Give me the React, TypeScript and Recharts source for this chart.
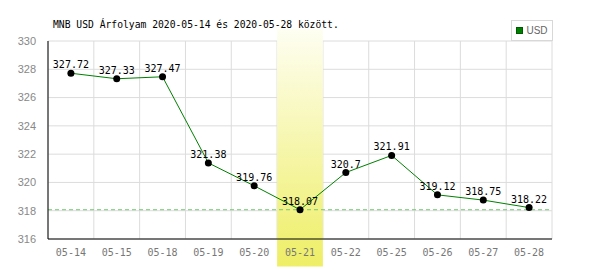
import React from "react";
import {
  LineChart,
  Line,
  XAxis,
  YAxis,
  CartesianGrid,
  ReferenceLine,
  ReferenceArea,
  LabelList,
} from "recharts";

const dates = ["05-14", "05-15", "05-18", "05-19", "05-20", "05-21", "05-22", "05-25", "05-26", "05-27", "05-28"];
const usdRates = [327.72, 327.33, 327.47, 321.38, 319.76, 318.07, 320.7, 321.91, 319.12, 318.75, 318.22];
const yTicks = [316, 318, 320, 322, 324, 326, 328, 330];
const highlightIndex = 5;
const minRate = Math.min(...usdRates);

const data = dates.map((d, i) => ({ i, date: d, usd: usdRates[i] }));
const xTicks = dates.map((_, i) => i);
const gridTicks = [...dates.map((_, i) => i - 0.5), dates.length - 0.5];

const MONO = "'DejaVu Sans Mono', monospace";
const SANS = "'Liberation Sans', Arial, sans-serif";

function LegendBox() {
  return (
    <div
      style={{
        position: "absolute",
        left: 511,
        top: 20,
        border: "1px solid #d8d8d8",
        width: 42,
        height: 21,
        display: "flex",
        alignItems: "center",
        justifyContent: "center",
        gap: 3,
        fontFamily: SANS,
        fontSize: 10,
        color: "#666",
        background: "#fff",
        boxSizing: "border-box",
      }}
    >
      <span style={{ width: 5, height: 5, background: "#008000", border: "1px solid #005a00", display: "inline-block" }} />
      <span>USD</span>
    </div>
  );
}

export default function App() {
  return (
    <div style={{ position: "absolute", left: 0, top: 0, width: 600, height: 270, background: "#fff" }}>
      <div
        style={{
          position: "absolute",
          left: 53,
          top: 19,
          fontFamily: MONO,
          fontSize: 9.7,
          color: "#000",
          whiteSpace: "nowrap",
        }}
      >
        MNB USD Árfolyam 2020-05-14 és 2020-05-28 között.
      </div>
      <LineChart width={600} height={270} data={data} margin={{ top: 41, right: 48, bottom: 0, left: 0 }}>
        <defs>
          <linearGradient id="band" x1="0" y1="0" x2="0" y2="1">
            <stop offset="0%" stopColor="#fefef2" />
            <stop offset="100%" stopColor="#eeee66" />
          </linearGradient>
        </defs>
        <XAxis
          dataKey="i"
          type="number"
          domain={[-0.5, dates.length - 0.5]}
          ticks={xTicks}
          tickFormatter={(v) => dates[v] ?? ""}
          stroke="#000"
          tickLine={false}
          tickMargin={4}
          height={31}
          tick={{ fontFamily: MONO, fontSize: 10, fill: "#777" }}
        />
        <XAxis
          xAxisId="grid"
          dataKey="i"
          type="number"
          domain={[-0.5, dates.length - 0.5]}
          ticks={gridTicks}
          hide
        />
        <YAxis
          domain={[316, 330]}
          ticks={yTicks}
          width={48}
          stroke="#000"
          tickLine={false}
          tickMargin={6}
          tick={{ fontFamily: SANS, fontSize: 11, fill: "#888" }}
        />
        <CartesianGrid xAxisId="grid" stroke="#dcdcdc" />
        <ReferenceArea
          x1={highlightIndex - 0.5}
          x2={highlightIndex + 0.5}
          y1={314.05}
          y2={330.85}
          ifOverflow="visible"
          fill="url(#band)"
          fillOpacity={1}
          stroke="none"
        />
        <ReferenceLine y={minRate} stroke="#74c874" strokeDasharray="4 3" />
        <Line
          dataKey="usd"
          stroke="#008000"
          strokeWidth={1}
          dot={{ r: 3.5, fill: "#000", stroke: "#000", strokeWidth: 0 }}
          isAnimationActive={false}
        >
          <LabelList dataKey="usd" position="top" offset={5} style={{ fontFamily: MONO, fontSize: 10, fill: "#000" }} />
        </Line>
      </LineChart>
      <LegendBox />
    </div>
  );
}
